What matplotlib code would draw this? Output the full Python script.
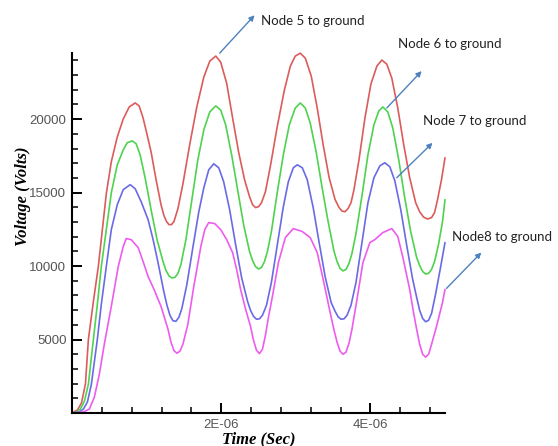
import numpy as np
import matplotlib
matplotlib.use("Agg")
import matplotlib.pyplot as plt
from matplotlib.ticker import FixedLocator, FuncFormatter

# time in microseconds, voltage in volts
t_node5 = [0.0, 0.02, 0.073, 0.127, 0.18, 0.22, 0.287, 0.353, 0.407, 0.46,
           0.527, 0.607, 0.687, 0.767, 0.847, 0.90, 0.953, 1.007, 1.06, 1.127,
           1.193, 1.233, 1.267, 1.30, 1.333, 1.367, 1.42, 1.487, 1.58, 1.673,
           1.767, 1.847, 1.927, 1.993, 2.073, 2.153, 2.233, 2.313, 2.38, 2.42,
           2.46, 2.50, 2.54, 2.593, 2.66, 2.753, 2.847, 2.927, 2.993, 3.06,
           3.127, 3.207, 3.287, 3.367, 3.447, 3.527, 3.58, 3.62, 3.66, 3.70,
           3.74, 3.78, 3.847, 3.927, 4.007, 4.087, 4.153, 4.22, 4.287, 4.367,
           4.447, 4.527, 4.607, 4.66, 4.713, 4.767, 4.82, 4.86, 4.90, 4.953, 5.0]
v_node5 = [0, 70, 200, 680, 1970, 5020, 7600, 9970, 12480, 14930,
           17100, 18790, 20010, 20830, 21100, 20900, 20080, 18930, 17770, 15880,
           14180, 13430, 13030, 12820, 12820, 13030, 13910, 15600, 18320, 20830,
           22860, 23950, 24290, 23880, 22450, 20080, 17770, 15880, 14720, 14180,
           13980, 14040, 14310, 15060, 16820, 19540, 21980, 23610, 24290, 24490,
           24150, 22930, 20760, 18250, 16010, 14520, 13980, 13740, 13700, 13910,
           14310, 15200, 17230, 20080, 22390, 23610, 24020, 23740, 22790, 20760,
           18250, 16010, 14310, 13700, 13330, 13200, 13300, 13640, 14520, 15880, 17370]

t_node6 = [0.0, 0.06, 0.113, 0.167, 0.22, 0.287, 0.34, 0.393, 0.46, 0.527,
           0.607, 0.687, 0.74, 0.807, 0.86, 0.913, 0.98, 1.06, 1.14, 1.22,
           1.26, 1.30, 1.34, 1.38, 1.42, 1.46, 1.527, 1.607, 1.687, 1.767,
           1.847, 1.927, 1.993, 2.06, 2.14, 2.22, 2.30, 2.38, 2.42, 2.46,
           2.50, 2.54, 2.58, 2.62, 2.673, 2.753, 2.833, 2.913, 2.993, 3.06,
           3.127, 3.193, 3.273, 3.353, 3.433, 3.513, 3.553, 3.593, 3.633, 3.673,
           3.713, 3.753, 3.807, 3.887, 3.967, 4.047, 4.113, 4.167, 4.233, 4.30,
           4.38, 4.46, 4.54, 4.62, 4.66, 4.70, 4.74, 4.78, 4.82, 4.86,
           4.913, 4.967, 5.0]
v_node6 = [0, 70, 270, 810, 1970, 5020, 7400, 9970, 12480, 14990,
           16890, 17910, 18390, 18520, 18320, 17570, 16010, 13840, 11800, 10310,
           9700, 9330, 9190, 9230, 9500, 10110, 11800, 14520, 17230, 19270,
           20490, 20900, 20620, 19610, 17570, 15200, 12820, 10990, 10380, 9970,
           9800, 9900, 10310, 10990, 12350, 15060, 17570, 19610, 20760, 21100,
           20760, 19740, 17770, 15330, 13030, 10990, 10310, 9840, 9670, 9770,
           10180, 10860, 12210, 14790, 17570, 19610, 20560, 20830, 20490, 19400,
           17230, 14650, 12350, 10580, 10040, 9630, 9460, 9500, 9770, 10310,
           11470, 13030, 14520]

t_node7 = [0.0, 0.10, 0.153, 0.207, 0.26, 0.34, 0.393, 0.46, 0.527, 0.607,
           0.687, 0.78, 0.847, 0.927, 1.02, 1.087, 1.153, 1.233, 1.273, 1.313,
           1.353, 1.393, 1.433, 1.473, 1.54, 1.62, 1.70, 1.767, 1.833, 1.90,
           1.967, 2.033, 2.113, 2.193, 2.273, 2.353, 2.393, 2.433, 2.473, 2.513,
           2.553, 2.607, 2.673, 2.753, 2.833, 2.90, 2.967, 3.02, 3.087, 3.153,
           3.233, 3.313, 3.393, 3.473, 3.527, 3.567, 3.607, 3.647, 3.687, 3.74,
           3.807, 3.887, 3.967, 4.047, 4.127, 4.193, 4.26, 4.327, 4.407, 4.487,
           4.567, 4.62, 4.66, 4.70, 4.74, 4.78, 4.82, 4.873, 4.94, 5.0]
v_node7 = [0, 70, 270, 750, 1970, 5020, 7400, 9970, 12480, 14180,
           15200, 15540, 15260, 14380, 13160, 11800, 10240, 8210, 7330, 6650,
           6280, 6240, 6510, 7120, 8750, 11260, 13700, 15330, 16550, 16960,
           16690, 15740, 13840, 11470, 9230, 7600, 6990, 6580, 6380, 6410,
           6650, 7330, 8890, 11470, 14040, 15740, 16690, 16890, 16690, 15880,
           13980, 11600, 9290, 7530, 6920, 6550, 6380, 6410, 6650, 7330,
           8890, 11600, 14310, 16010, 16820, 17030, 16760, 15810, 13840, 11400,
           9090, 7870, 6990, 6440, 6210, 6310, 6780, 8070, 9900, 11600]

t_node8 = [0.0, 0.153, 0.233, 0.30, 0.367, 0.433, 0.527, 0.62, 0.687, 0.727,
           0.793, 0.887, 0.953, 1.02, 1.10, 1.193, 1.287, 1.327, 1.367, 1.407,
           1.447, 1.487, 1.553, 1.633, 1.727, 1.78, 1.833, 1.913, 1.993, 2.073,
           2.153, 2.207, 2.26, 2.327, 2.393, 2.433, 2.473, 2.513, 2.553, 2.593,
           2.633, 2.687, 2.767, 2.86, 2.967, 3.087, 3.193, 3.287, 3.367, 3.46,
           3.513, 3.553, 3.593, 3.633, 3.673, 3.713, 3.753, 3.82, 3.90, 3.993,
           4.06, 4.167, 4.287, 4.367, 4.433, 4.527, 4.58, 4.62, 4.66, 4.70,
           4.74, 4.78, 4.82, 4.887, 4.967, 5.0]
v_node8 = [0, 70, 270, 1090, 2650, 4680, 7260, 9970, 11330, 11870,
           11800, 11260, 10310, 9290, 8410, 7260, 5700, 4820, 4240, 4070,
           4210, 4680, 6040, 8620, 11330, 12480, 12960, 12890, 12480, 11800,
           10920, 9770, 8410, 7060, 5900, 4950, 4270, 4040, 4340, 5290,
           6510, 7940, 10240, 11940, 12550, 12350, 11940, 10920, 9090, 6850,
           5630, 4820, 4210, 4000, 4140, 4750, 5700, 7730, 10240, 11600,
           11800, 12280, 12550, 12010, 10650, 8410, 6780, 5700, 4680, 4000,
           3800, 4000, 4680, 5900, 7530, 8410]

series = [
    (t_node5, v_node5, "#dc5b5b"),
    (t_node6, v_node6, "#4fd24f"),
    (t_node7, v_node7, "#6a6ae6"),
    (t_node8, v_node8, "#ee5cee"),
]

labels = ["Node 5 to ground", "Node 6 to ground", "Node 7 to ground", "Node8 to ground"]
# (arrow tail on curve, arrow head, text anchor) in (microseconds, volts)
arrow_tail = [(1.98, 24490), (4.22, 20760), (4.353, 16010), (5.02, 8480)]
arrow_head = [(2.447, 27070), (4.687, 23270), (4.833, 18385), (5.487, 10920)]
text_pos = [(2.54, 26660), (4.367, 25100), (4.70, 19880), (5.10, 12010)]

fig = plt.figure(figsize=(5.58, 4.46), dpi=100)
ax = fig.add_axes([72 / 558, 1 - 413 / 446, 373 / 558, 360 / 446])

for t, v, c in series:
    ax.plot(np.array(t) * 1e-6, v, color=c, lw=1.2, clip_on=False,
            solid_joinstyle="round", solid_capstyle="round")

ax.set_xlim(0, 5.0e-6)
ax.set_ylim(0, 24500)

ax.spines["top"].set_visible(False)
ax.spines["right"].set_visible(False)
for s in ("left", "bottom"):
    ax.spines[s].set_linewidth(1.5)

ax.xaxis.set_major_locator(FixedLocator([2e-6, 4e-6]))
ax.xaxis.set_minor_locator(FixedLocator([i * 0.4e-6 for i in range(1, 13)]))
ax.xaxis.set_major_formatter(FuncFormatter(lambda x, p: "%dE-06" % round(x * 1e6)))
ax.yaxis.set_major_locator(FixedLocator([5000, 10000, 15000, 20000]))
ax.yaxis.set_minor_locator(FixedLocator(list(range(1000, 25000, 1000))))

ax.tick_params(which="major", direction="in", length=7, width=1.4, color="black",
               labelsize=9.5, labelcolor="#555555", pad=4)
ax.tick_params(which="minor", direction="in", length=4, width=1.1, color="black")
for lab in ax.get_xticklabels() + ax.get_yticklabels():
    lab.set_family("Liberation Sans")

ax.set_ylabel("Voltage (Volts)", family="Liberation Serif", fontweight="bold",
              fontstyle="italic", fontsize=12)
ax.yaxis.label.set_va("center")
ax.yaxis.set_label_coords(-0.131, 0.603)
ax.set_xlabel("Time (Sec)", family="Liberation Serif", fontweight="bold",
              fontstyle="italic", fontsize=12)
ax.xaxis.set_label_coords(0.5, -0.05)

for lab, tail, head, tp in zip(labels, arrow_tail, arrow_head, text_pos):
    ax.annotate("", xy=(head[0] * 1e-6, head[1]), xytext=(tail[0] * 1e-6, tail[1]),
                arrowprops=dict(arrowstyle="-|>", color="#4f81bd", lw=1.0,
                                mutation_scale=8, shrinkA=0, shrinkB=0),
                annotation_clip=False)
    ax.text(tp[0] * 1e-6, tp[1], lab, family="Lato", fontsize=9.5, color="#222222",
            ha="left", va="center", clip_on=False)

fig.savefig("out.png", dpi=100)
